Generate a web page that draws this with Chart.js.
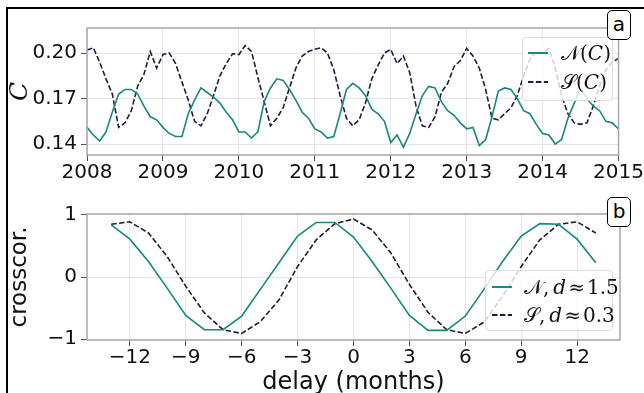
<!DOCTYPE html>
<html>
<head>
<meta charset="utf-8">
<script src="https://cdn.jsdelivr.net/npm/chart.js@4.4.0/dist/chart.umd.min.js"></script>
<style>
  body { margin: 0; width: 644px; height: 393px; background: #fff; overflow: hidden; position: relative; font-family: "DejaVu Sans", sans-serif; }
  #frame { position: absolute; left: 6px; top: 7px; width: 700px; height: 500px; border-left: 2px solid #000; border-top: 2px solid #000; }
  .box { position: absolute; left: 0; }
  .tag { position: absolute; width: 22px; height: 28px; border: 1px solid #000; border-radius: 5px; background: #fff;
         font: 20px "DejaVu Sans"; text-align: center; line-height: 27px; }
  .legend { position: absolute; background: rgba(255,255,255,0.8); border: 1px solid #dcdcdc; border-radius: 4px; }
  .sample { position: absolute; }
  .lbl { position: absolute; font-family: "DejaVu Serif", serif; font-size: 20px; color: #111; white-space: nowrap; line-height: 24px; }
  .lbl i { font-style: italic; }
</style>
</head>
<body>
<div id="frame"></div>
<div class="box" style="top:0"><canvas id="seriesChart" width="644" height="190"></canvas></div>
<div class="box" style="top:190px"><canvas id="corrChart" width="644" height="203"></canvas></div>

<!-- legend panel a -->
<div class="legend" style="left:522px; top:37px; width:89px; height:62px;"></div>
<svg class="sample" style="left:527px; top:47px" width="22" height="40">
  <line x1="1" y1="6" x2="21" y2="6" stroke="#17877f" stroke-width="2"/>
  <line x1="1" y1="35" x2="21" y2="35" stroke="#1d1d3d" stroke-width="2" stroke-dasharray="5.5 2.4"/>
</svg>
<div class="lbl" style="left:561px; top:41px">𝒩(<i>C</i>)</div>
<div class="lbl" style="left:561px; top:70px">𝒮(<i>C</i>)</div>

<!-- legend panel b -->
<div class="legend" style="left:485px; top:270px; width:126px; height:59px;"></div>
<svg class="sample" style="left:491px; top:281px" width="22" height="40">
  <line x1="1" y1="6" x2="21" y2="6" stroke="#17877f" stroke-width="2"/>
  <line x1="1" y1="34" x2="21" y2="34" stroke="#1d1d3d" stroke-width="2" stroke-dasharray="5.5 2.4"/>
</svg>
<div class="lbl" style="left:524px; top:275px">𝒩,&#8201;<i>d</i>&#8202;≈&#8202;1.5</div>
<div class="lbl" style="left:524px; top:303px">𝒮,&#8201;<i>d</i>&#8202;≈&#8202;0.3</div>

<div class="tag" style="left:607px; top:10px">a</div>
<div class="tag" style="left:607px; top:197px">b</div>

<script>
// panel a: monthly values, Jan 2008 .. Jan 2015
const startYear = 2008;
const N_C = [0.151, 0.146, 0.142, 0.148, 0.161, 0.173, 0.176, 0.176, 0.173, 0.165, 0.158, 0.156,
             0.151, 0.147, 0.145, 0.145, 0.160, 0.169, 0.177, 0.174, 0.171, 0.167, 0.161, 0.156,
             0.148, 0.148, 0.144, 0.148, 0.168, 0.177, 0.183, 0.182, 0.176, 0.169, 0.161, 0.157,
             0.150, 0.148, 0.144, 0.145, 0.160, 0.176, 0.180, 0.177, 0.172, 0.163, 0.160, 0.155,
             0.141, 0.146, 0.138, 0.147, 0.160, 0.172, 0.178, 0.177, 0.168, 0.162, 0.159, 0.154,
             0.150, 0.151, 0.139, 0.143, 0.158, 0.175, 0.177, 0.176, 0.170, 0.162, 0.160, 0.153,
             0.147, 0.146, 0.140, 0.143, 0.157, 0.167, 0.177, 0.170, 0.165, 0.162, 0.155, 0.154,
             0.150];
const S_C = [0.202, 0.2035, 0.194, 0.183, 0.173, 0.151, 0.154, 0.162, 0.178, 0.186, 0.201, 0.190,
             0.199, 0.200, 0.193, 0.181, 0.169, 0.155, 0.152, 0.160, 0.172, 0.185, 0.193, 0.1995,
             0.199, 0.205, 0.201, 0.184, 0.168, 0.152, 0.157, 0.164, 0.177, 0.190, 0.198, 0.201,
             0.2025, 0.2035, 0.200, 0.189, 0.172, 0.157, 0.152, 0.156, 0.167, 0.183, 0.192, 0.200,
             0.2024, 0.193, 0.198, 0.187, 0.165, 0.152, 0.151, 0.158, 0.174, 0.180, 0.191, 0.195,
             0.203, 0.198, 0.190, 0.176, 0.157, 0.156, 0.160, 0.164, 0.172, 0.185, 0.196, 0.201,
             0.200, 0.203, 0.190, 0.172, 0.160, 0.154, 0.153, 0.154, 0.165, 0.178, 0.189, 0.194,
             0.1965];
const yearTicks = [2008, 2009, 2010, 2011, 2012, 2013, 2014, 2015];
const cTicks = [0.14, 0.17, 0.20];

// panel b: cross-correlation against delay
const delays = [-13, -12, -11, -10, -9, -8, -7, -6, -5, -4, -3, -2, -1,
                0, 1, 2, 3, 4, 5, 6, 7, 8, 9, 10, 11, 12, 13];
const corrN = [0.84, 0.61, 0.25, -0.18, -0.62, -0.85, -0.85, -0.63, -0.20, 0.23, 0.66, 0.88, 0.88,
               0.645, 0.25, -0.18, -0.62, -0.86, -0.86, -0.63, -0.20, 0.25, 0.66, 0.86, 0.85, 0.61, 0.23];
const corrS = [0.85, 0.89, 0.71, 0.33, -0.15, -0.58, -0.85, -0.91, -0.72, -0.37, 0.17, 0.60, 0.86,
               0.935, 0.76, 0.39, -0.12, -0.57, -0.85, -0.91, -0.73, -0.31, 0.17, 0.60, 0.85, 0.89, 0.71];
const delayTicks = [-12, -9, -6, -3, 0, 3, 6, 9, 12];
const corrTicks = [-1, 0, 1];

const TEAL = '#17877f';
const NAVY = '#1d1d3d';
const tickFont = { family: 'DejaVu Sans', size: 20 };
const minus = v => String(v).replace('-', '\u2212');

// grey box round the plot area, like the mpl spines
const frameLines = {
  id: 'frameLines',
  afterDatasetsDraw(chart) {
    const a = chart.chartArea, ctx = chart.ctx;
    ctx.save();
    ctx.strokeStyle = '#a8a8a8';
    ctx.lineWidth = 1.5;
    ctx.strokeRect(a.left, a.top, a.right - a.left, a.bottom - a.top);
    ctx.restore();
  }
};

function gridOpts() {
  return { color: '#e4e4e4', lineWidth: 1, tickLength: 6, tickColor: '#555', tickWidth: 1 };
}

const months = N_C.map((_, i) => startYear + i / 12);

new Chart(document.getElementById('seriesChart'), {
  type: 'line',
  data: {
    datasets: [
      { label: 'N(C)', data: months.map((x, i) => ({ x, y: N_C[i] })), borderColor: TEAL,
        borderWidth: 1.6, pointRadius: 0, tension: 0 },
      { label: 'S(C)', data: months.map((x, i) => ({ x, y: S_C[i] })), borderColor: NAVY,
        borderWidth: 1.6, borderDash: [5.5, 2.4], pointRadius: 0, tension: 0 }
    ]
  },
  options: {
    responsive: false,
    animation: false,
    devicePixelRatio: 1,
    layout: { padding: { left: 0, right: 24, top: 28, bottom: 0 } },
    plugins: { legend: { display: false }, tooltip: { enabled: false } },
    scales: {
      x: {
        type: 'linear', min: 2008, max: 2015,
        afterBuildTicks: s => { s.ticks = yearTicks.map(v => ({ value: v })); },
        afterFit: s => { s.height = 35; },
        ticks: { callback: v => String(v), font: tickFont, color: '#111', padding: 0, maxRotation: 0, autoSkip: false },
        grid: gridOpts(),
        border: { display: false }
      },
      y: {
        min: 0.1328, max: 0.2165,
        afterBuildTicks: s => { s.ticks = cTicks.map(v => ({ value: v })); },
        afterFit: s => { s.width = 87; },
        ticks: { callback: v => v.toFixed(2), font: tickFont, color: '#111', padding: 4 },
        grid: gridOpts(),
        border: { display: false },
        title: { display: true, text: 'C', color: '#111', padding: { top: 5 },
                 font: { family: 'DejaVu Serif', style: 'italic', size: 25 } }
      }
    }
  },
  plugins: [frameLines]
});

new Chart(document.getElementById('corrChart'), {
  type: 'line',
  data: {
    datasets: [
      { label: 'N', data: delays.map((x, i) => ({ x, y: corrN[i] })), borderColor: TEAL,
        borderWidth: 1.6, pointRadius: 0, tension: 0 },
      { label: 'S', data: delays.map((x, i) => ({ x, y: corrS[i] })), borderColor: NAVY,
        borderWidth: 1.6, borderDash: [5.5, 2.4], pointRadius: 0, tension: 0 }
    ]
  },
  options: {
    responsive: false,
    animation: false,
    devicePixelRatio: 1,
    layout: { padding: { left: 0, right: 24, top: 24, bottom: 0 } },
    plugins: { legend: { display: false }, tooltip: { enabled: false } },
    scales: {
      x: {
        type: 'linear', min: -14.3, max: 14.3,
        afterBuildTicks: s => { s.ticks = delayTicks.map(v => ({ value: v })); },
        afterFit: s => { s.height = 53; },
        ticks: { callback: v => minus(v), font: tickFont, color: '#111', padding: 0, maxRotation: 0, autoSkip: false },
        grid: gridOpts(),
        border: { display: false },
        title: { display: true, text: 'delay (months)', color: '#111', padding: { top: 0, bottom: -2 },
                 font: { family: 'DejaVu Sans', size: 24, lineHeight: 1 } }
      },
      y: {
        min: -1.016, max: 1.016,
        afterBuildTicks: s => { s.ticks = corrTicks.map(v => ({ value: v })); },
        afterFit: s => { s.width = 87; },
        ticks: { callback: v => minus(v), font: tickFont, color: '#111', padding: 4 },
        grid: gridOpts(),
        border: { display: false },
        title: { display: true, text: 'crosscor.', color: '#111', padding: { top: 6 },
                 font: { family: 'DejaVu Sans', size: 23 } }
      }
    }
  },
  plugins: [frameLines]
});
</script>
</body>
</html>
